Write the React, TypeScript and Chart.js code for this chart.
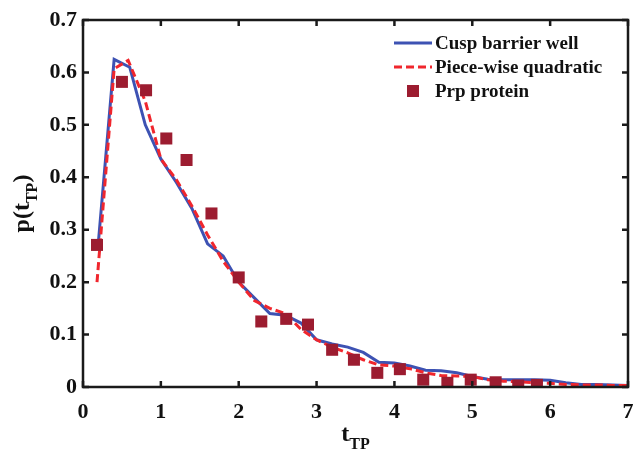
import React, { useEffect, useRef } from "react";
import { Chart, registerables } from "chart.js";
Chart.register(...registerables);

const cuspX = [0.2, 0.4, 0.6, 0.8, 1.0, 1.2, 1.4, 1.6, 1.8, 2.0, 2.2, 2.4, 2.6, 2.8, 3.0, 3.2, 3.4, 3.6, 3.8, 4.0, 4.2, 4.4, 4.6, 4.8, 5.0, 5.2, 5.4, 5.6, 5.8, 6.0, 6.2, 6.4, 6.6, 6.8, 7.0];
const cuspY = [0.28, 0.625, 0.61, 0.5, 0.435, 0.39, 0.34, 0.273, 0.25, 0.2, 0.17, 0.14, 0.137, 0.122, 0.09, 0.082, 0.076, 0.066, 0.047, 0.046, 0.04, 0.032, 0.031, 0.027, 0.02, 0.015, 0.014, 0.014, 0.014, 0.013, 0.008, 0.005, 0.005, 0.004, 0.003];

const quadX = [0.18, 0.4, 0.58, 0.8, 1.0, 1.2, 1.4, 1.6, 1.8, 2.0, 2.2, 2.4, 2.6, 2.8, 3.0, 3.2, 3.4, 3.6, 3.8, 4.0, 4.2, 4.4, 4.6, 4.8, 5.0, 5.2, 5.4, 5.6, 5.8, 6.0, 6.2, 6.4, 6.6, 6.8, 7.0];
const quadY = [0.2, 0.607, 0.623, 0.545, 0.435, 0.395, 0.345, 0.29, 0.24, 0.2, 0.165, 0.15, 0.14, 0.11, 0.09, 0.076, 0.065, 0.052, 0.042, 0.04, 0.035, 0.027, 0.022, 0.021, 0.02, 0.014, 0.011, 0.01, 0.008, 0.007, 0.005, 0.004, 0.004, 0.003, 0.003];

const prpX = [0.18, 0.5, 0.81, 1.07, 1.33, 1.65, 2.0, 2.29, 2.61, 2.89, 3.2, 3.48, 3.78, 4.07, 4.37, 4.68, 4.98, 5.3, 5.59, 5.83];
const prpY = [0.271, 0.582, 0.566, 0.474, 0.433, 0.331, 0.209, 0.125, 0.13, 0.119, 0.071, 0.052, 0.027, 0.034, 0.014, 0.008, 0.014, 0.009, 0.003, 0.004];

const seriesNames = ["Cusp barrier well", "Piece-wise quadratic", "Prp protein"];
const xTicks = [0, 1, 2, 3, 4, 5, 6, 7];
const yTicks = [0, 0.1, 0.2, 0.3, 0.4, 0.5, 0.6, 0.7];

const BLUE = "#3d52b3";
const RED = "#f0262d";
const MAROON = "#9c1c30";
const FONT = "'Liberation Serif', 'Times New Roman', serif";

function toPts(xs: number[], ys: number[]) {
  return xs.map((x, i) => ({ x, y: ys[i] }));
}

const framePlugin = {
  id: "frame",
  afterDraw(chart: any) {
    const { ctx, chartArea: a, scales } = chart;
    const xs = scales.x, ys = scales.y;
    ctx.save();
    ctx.strokeStyle = "#1a1a1a";
    ctx.lineWidth = 2.5;
    ctx.strokeRect(a.left, a.top, a.right - a.left, a.bottom - a.top);
    ctx.beginPath();
    const tl = 6;
    xTicks.forEach((t) => {
      const px = xs.getPixelForValue(t);
      ctx.moveTo(px, a.bottom);
      ctx.lineTo(px, a.bottom - tl);
      ctx.moveTo(px, a.top);
      ctx.lineTo(px, a.top + tl);
    });
    yTicks.forEach((t) => {
      const py = ys.getPixelForValue(t);
      ctx.moveTo(a.left, py);
      ctx.lineTo(a.left + tl, py);
      ctx.moveTo(a.right, py);
      ctx.lineTo(a.right - tl, py);
    });
    ctx.stroke();

    // axis titles with subscripts
    ctx.fillStyle = "#111";
    ctx.textBaseline = "alphabetic";
    const big = `bold 24px ${FONT}`;
    const small = `bold 16px ${FONT}`;
    // x title
    ctx.font = big;
    const wT = ctx.measureText("t").width;
    ctx.font = small;
    const wS = ctx.measureText("TP").width;
    const cx = (a.left + a.right) / 2;
    const startX = cx - (wT + wS) / 2;
    ctx.font = big;
    ctx.fillText("t", startX, 441);
    ctx.font = small;
    ctx.fillText("TP", startX + wT, 449);

    // y title rotated
    ctx.save();
    ctx.translate(29, (a.top + a.bottom) / 2);
    ctx.rotate(-Math.PI / 2);
    ctx.font = big;
    const w1 = ctx.measureText("p(t").width;
    const w3 = ctx.measureText(")").width;
    ctx.font = small;
    const w2 = ctx.measureText("TP").width;
    const sx = -(w1 + w2 + w3) / 2;
    ctx.font = big;
    ctx.fillText("p(t", sx, 0);
    ctx.font = small;
    ctx.fillText("TP", sx + w1, 8);
    ctx.font = big;
    ctx.fillText(")", sx + w1 + w2, 0);
    ctx.restore();

    // legend
    const lx0 = 394, lx1 = 432, tx = 435;
    const rows = [43, 67, 91];
    ctx.font = `bold 19px ${FONT}`;
    ctx.textBaseline = "middle";
    ctx.lineWidth = 3;
    ctx.strokeStyle = BLUE;
    ctx.setLineDash([]);
    ctx.beginPath();
    ctx.moveTo(lx0, rows[0]);
    ctx.lineTo(lx1, rows[0]);
    ctx.stroke();
    ctx.strokeStyle = RED;
    ctx.setLineDash([8, 4]);
    ctx.beginPath();
    ctx.moveTo(lx0, rows[1]);
    ctx.lineTo(lx1, rows[1]);
    ctx.stroke();
    ctx.setLineDash([]);
    ctx.fillStyle = MAROON;
    ctx.fillRect((lx0 + lx1) / 2 - 6, rows[2] - 6, 12, 12);
    ctx.fillStyle = "#111";
    seriesNames.forEach((n, i) => ctx.fillText(n, tx, rows[i] + 1));
    ctx.restore();
  },
};

export default function App() {
  const ref = useRef<HTMLCanvasElement>(null);
  useEffect(() => {
    document.body.style.margin = "0";
    const c = ref.current!;
    const chart = new Chart(c, {
      type: "scatter",
      data: {
        datasets: [
          {
            label: seriesNames[0],
            data: toPts(cuspX, cuspY),
            showLine: true,
            borderColor: BLUE,
            borderWidth: 3,
            pointRadius: 0,
            order: 2,
          },
          {
            label: seriesNames[1],
            data: toPts(quadX, quadY),
            showLine: true,
            borderColor: RED,
            borderWidth: 3,
            borderDash: [8, 4],
            pointRadius: 0,
            order: 1,
          },
          {
            label: seriesNames[2],
            data: toPts(prpX, prpY),
            showLine: false,
            pointStyle: "rect",
            pointRadius: 8.5,
            backgroundColor: MAROON,
            borderColor: MAROON,
            borderWidth: 0,
            order: 0,
          },
        ],
      },
      options: {
        responsive: false,
        animation: false,
        layout: { autoPadding: false, padding: { top: 20, right: 6, left: 0, bottom: 0 } },
        plugins: { legend: { display: false }, tooltip: { enabled: false } },
        scales: {
          x: {
            type: "linear",
            min: 0,
            max: 7,
            afterBuildTicks: (s: any) => {
              s.ticks = xTicks.map((v) => ({ value: v }));
            },
            afterFit: (s: any) => {
              s.height = 72;
              s.paddingLeft = 0;
              s.paddingRight = 0;
            },
            grid: { display: false, drawTicks: false },
            border: { display: false },
            ticks: {
              padding: 12,
              color: "#111",
              font: { family: FONT, size: 22, weight: "bold" },
              callback: (v: any) => String(v),
            },
          },
          y: {
            type: "linear",
            min: 0,
            max: 0.7,
            afterBuildTicks: (s: any) => {
              s.ticks = yTicks.map((v) => ({ value: v }));
            },
            afterFit: (s: any) => {
              s.width = 83;
              s.paddingTop = 0;
              s.paddingBottom = 0;
            },
            grid: { display: false, drawTicks: false },
            border: { display: false },
            ticks: {
              padding: 6,
              color: "#111",
              font: { family: FONT, size: 22, weight: "bold" },
              callback: (v: any) => (v === 0 ? "0" : Number(v).toFixed(1)),
            },
          },
        },
      },
      plugins: [framePlugin],
    } as any);
    return () => chart.destroy();
  }, []);
  return (
    <div style={{ width: 634, height: 459 }}>
      <canvas ref={ref} width={634} height={459} style={{ display: "block" }} />
    </div>
  );
}
